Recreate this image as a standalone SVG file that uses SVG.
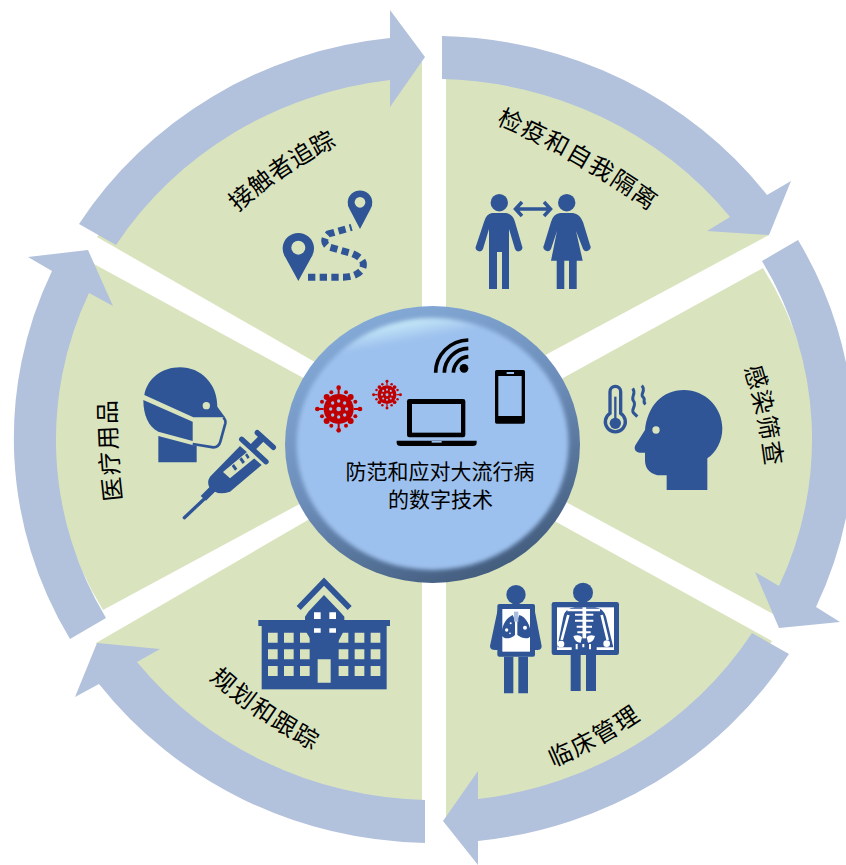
<svg xmlns="http://www.w3.org/2000/svg" width="846" height="865" viewBox="0 0 846 865">
<style>
.s{fill:#d9e4bf}
.a{fill:#b2c1dc}
.b{fill:#2f5597}
.g{fill:#d9e4bf}
.l{fill:none;stroke:#2f5597}
text{font-family:"Liberation Serif","Noto Sans CJK SC",serif;fill:#000}
.t{font-size:24px;letter-spacing:1.5px}
.c{font-size:21px;text-anchor:middle}
.r{fill:#c00000}
.k{fill:#000}
.f{fill:#9dc1ee}
</style>
<defs>
<linearGradient id="rim" x1="0.25" y1="0" x2="0.75" y2="1"><stop offset="0" stop-color="#86acd9"/><stop offset="0.5" stop-color="#6b8cb8"/><stop offset="1" stop-color="#3f5878"/></linearGradient>
<linearGradient id="hi" x1="0.4" y1="0" x2="0.6" y2="1"><stop offset="0" stop-color="#cdeffa"/><stop offset="0.09" stop-color="#9dc1ee"/><stop offset="1" stop-color="#9dc1ee"/></linearGradient>
<filter id="bl" x="-10%" y="-10%" width="120%" height="120%"><feGaussianBlur stdDeviation="2"/></filter>
<g id="virus">
<circle r="45" class="r"/>
<g class="r">
<path id="sp" d="M-3,-45H3V-60H-3Z"/><circle cy="-64" r="7"/>
<use href="#sp" transform="rotate(90)"/><circle cx="64" r="7"/>
<use href="#sp" transform="rotate(180)"/><circle cy="64" r="7"/>
<use href="#sp" transform="rotate(270)"/><circle cx="-64" r="7"/>
<circle cx="-36" cy="-36" r="9"/><circle cx="36" cy="-36" r="9"/><circle cx="-36" cy="36" r="9"/><circle cx="36" cy="36" r="9"/>
<circle cx="-22" cy="-50" r="6"/><circle cx="22" cy="-50" r="6"/><circle cx="-22" cy="50" r="6"/><circle cx="22" cy="50" r="6"/>
<circle cx="-50" cy="-22" r="6"/><circle cx="50" cy="-22" r="6"/><circle cx="-50" cy="22" r="6"/><circle cx="50" cy="22" r="6"/>
</g>
<g class="f">
<circle r="7"/><circle cy="-24" r="5"/><circle cy="24" r="5"/><circle cx="-24" r="5"/><circle cx="24" r="5"/>
<circle cx="-18" cy="-18" r="5"/><circle cx="18" cy="-18" r="5"/><circle cx="-18" cy="18" r="5"/><circle cx="18" cy="18" r="5"/>
</g>
</g>
<path id="p1" d="M496,124 Q578,158 662,220"/>
<path id="p2" d="M744,368 Q760,417 766,470"/>
<path id="p3" d="M553,767 Q598,749 644,717"/>
<path id="p4" d="M209,679 Q255,720 316,752"/>
<path id="p5" d="M122,500 Q116,452 116,400"/>
<path id="p6" d="M238,212 Q282,172 340,144"/>
</defs>

<g id="sector-quarantine">
<path class="s" d="M446,79A378,361 0 0 1 769,235L551,352L446,412Z"/>
</g>
<g id="sector-screening">
<path class="s" d="M763,268A372,356 0 0 1 775,615L540,488L563,378Z"/>
</g>
<g id="sector-clinical">
<path class="s" d="M772,641A378,361 0 0 1 446,819V480L540,513Z"/>
</g>
<g id="sector-planning">
<path class="s" d="M422,800A378,361 0 0 1 96,643L320,513L422,480Z"/>
</g>
<g id="sector-supplies">
<path class="s" d="M103,610A372,356 0 0 1 94,264L320,387V493Z"/>
</g>
<g id="sector-tracing">
<path class="s" d="M97,237A378,361 0 0 1 422,62V400L320,365Z"/>
</g>

<g id="connectors">
<path class="a" d="M442,36A420,404 0 0 1 767,195L791,181L769,235L707,231L730,217A378,361 0 0 0 442,79Z"/>
<path class="a" d="M798,240A414,399 0 0 1 816,607L840,622L779,628L755,572L779,586A372,356 0 0 0 762,261Z"/>
<path class="a" d="M789,654A420,404 0 0 1 478,841V865L443,821L478,771V799A378,361 0 0 0 752,633Z"/>
<path class="a" d="M425,843A420,404 0 0 1 99,684L75,697L97,643L160,649L137,662A378,361 0 0 0 425,800Z"/>
<path class="a" d="M70,639A414,399 0 0 1 52,271L28,257L88,250L113,306L89,293A372,356 0 0 0 106,618Z"/>
<path class="a" d="M79,224A420,404 0 0 1 390,38V10L425,57L390,107V80A378,361 0 0 0 116,245Z"/>
</g>

<g id="node-quarantine">
<text class="t"><textPath href="#p1">检疫和自我隔离</textPath></text>
<circle class="b" cx="499.3" cy="202.7" r="8.7"/>
<path class="b" d="M492,213H506Q513,214 515,222L522,246A3.8,3.8 0 0 1 515,249L509,229V289H502V252H497V289H489V229L483,249A3.8,3.8 0 0 1 476,246L484,222Q486,214 492,213Z"/>
<circle class="b" cx="566.7" cy="202.7" r="8.7"/>
<path class="b" d="M560,213H573Q580,214 583,222L590,245A3.8,3.8 0 0 1 583,249L576,231L582.7,260.7H576.7V289H569V260.7H564.3V289H556.7V260.7H551L557,231L551,249A3.8,3.8 0 0 1 544,245L551,222Q553,214 560,213Z"/>
<path fill="none" stroke="#2f5597" stroke-width="3.5" d="M517,209H549M522,202L515.5,209L522,216M544,202L550.5,209L544,216"/>
</g>

<g id="node-screening">
<text class="t"><textPath href="#p2">感染筛查</textPath></text>
<g transform="translate(590 370) scale(.33333)">
<path class="b" d="M230,360V316H212C185,316 165,298 165,272V248H150C138,248 130,238 136,226L165,180C172,110 215,60 282,60C345,60 397,112 397,175C397,215 378,248 352,265V360Z"/>
<circle class="g" cx="198" cy="180" r="11"/>
<path class="l" stroke-width="10" d="M60,130V65A16,16 0 0 1 92,65V130A30,30 0 1 1 60,130Z"/>
<path class="l" stroke-width="7" d="M76,80V150"/>
<circle class="b" cx="76" cy="160" r="17"/>
<path class="l" stroke-width="9" d="M128,55C140,70 122,80 130,92C142,105 122,118 130,128L142,140M155,47C170,60 150,72 158,80C170,90 155,95 167,103"/>
</g>
</g>

<g id="node-clinical">
<text class="t"><textPath href="#p3">临床管理</textPath></text>
<g transform="translate(460 560) scale(.33333)">
<circle class="b" cx="168" cy="104" r="29"/>
<path class="b" d="M115,140H222L245,258Q245,270 232,270H105Q90,270 90,258Z"/>
<rect class="b" x="112" y="132" width="113" height="158" rx="6"/>
<rect fill="#fff" x="127" y="147" width="83" height="128"/>
<path class="b" d="M132,290H160V400H132ZM175,290H204V400H175Z"/>
<path class="b" d="M158,165C135,175 122,205 126,228C135,240 155,235 165,225V180ZM178,165C200,170 215,205 212,228C205,240 185,235 172,225V180Z"/>
<path fill="#a9bedc" d="M162,155H175V185H162Z"/>
<g fill="#fff"><circle cx="140" cy="210" r="5"/><circle cx="152" cy="190" r="3"/><circle cx="195" cy="203" r="6"/><circle cx="150" cy="220" r="2.5"/></g>
<circle class="b" cx="369" cy="98" r="30"/>
<rect class="b" x="275" y="126" width="202" height="159" rx="7"/>
<rect fill="#fff" x="291" y="142" width="171" height="128"/>
<path class="b" d="M292,262L310,170Q315,145 345,142H405Q430,145 438,170L460,262H410V285H335V262Z"/>
<g fill="none" stroke="#fff">
<path stroke-width="7" d="M322,150H420"/>
<path stroke-width="11" d="M373,142V235"/>
<path stroke-width="6" d="M345,164H400M345,182H400M350,200H396M352,217H392"/>
<path stroke-width="8" d="M325,165L305,240M425,165L443,240"/>
<path stroke-width="6" d="M350,252V268M370,252V262M390,252V268"/>
</g>
<g fill="#fff"><circle cx="303" cy="252" r="10"/><circle cx="440" cy="251" r="10"/>
<path d="M340,228Q358,222 366,232L362,248Q345,248 340,228ZM405,228Q388,222 380,232L384,248Q400,248 405,228Z"/></g>
<path class="b" d="M332,285H362V393H332ZM378,285H408V393H378Z"/>
</g>
</g>

<g id="node-planning">
<text class="t"><textPath href="#p4">规划和跟踪</textPath></text>
<g transform="translate(240 570) scale(.33333)">
<path class="l" stroke-width="17" d="M176,114L252,35L329,114"/>
<rect class="b" x="55" y="150" width="395" height="18"/>
<rect class="b" x="65" y="165" width="375" height="193"/>
<path class="g" d="M84,188h29v30h-29zM132,188h29v30h-29zM180,188h29v30h-29zM296,188h29v30h-29zM344,188h29v30h-29zM392,188h29v30h-29zM84,238h29v30h-29zM132,238h29v30h-29zM180,238h29v30h-29zM296,238h29v30h-29zM344,238h29v30h-29zM392,238h29v30h-29zM84,288h29v30h-29zM132,288h29v30h-29zM180,288h29v30h-29zM296,288h29v30h-29zM344,288h29v30h-29zM392,288h29v30h-29zM233,268h39v70h-39z"/>
<path class="b" d="M252,75L300,125L313,140V180L295,214H215L195,180V140L205,125Z"/>
<path fill="#fff" d="M222,127h20v20h-20zM268,127h20v20h-20zM222,175h20v13h-20zM268,175h20v13h-20z"/>
</g>
</g>

<g id="node-supplies">
<text class="t"><textPath href="#p5">医疗用品</textPath></text>
<g transform="translate(130 360) scale(.33333)">
<path class="b" d="M43,105C52,55 97,22 150,22C212,22 262,70 262,140L285,172H190Z"/>
<path class="b" d="M40,120L188,185V243L85,215C55,200 40,165 40,120Z"/>
<path class="b" d="M85,228L190,256H200V307H85Z"/>
<path class="l" stroke-width="8" d="M188,252L250,262C262,262 268,256 271,245L286,190Q288,180 280,172"/>
<circle class="g" cx="229" cy="137" r="11"/>
<path class="l" stroke-width="10" stroke-linecap="round" d="M163,473L225,415"/>
<path class="b" d="M240,350L330,258L395,315L300,395Q270,405 255,395L228,422L212,408L238,382Q230,365 240,350Z"/>
<path class="l" stroke-width="16" stroke-linecap="round" d="M335,238L408,305M382,218L430,262"/>
<path class="l" stroke-width="22" d="M365,265L400,230"/>
<path class="g" d="M279,336L358,270L375,293L300,355Z"/>
<path class="b" d="M305,318l7,-6l10,14l-7,6zM328,298l7,-6l10,14l-7,6zM345,285l6,-5l8,12l-6,5z"/>
</g>
</g>

<g id="node-tracing">
<text class="t" style="letter-spacing:0"><textPath href="#p6">接触者追踪</textPath></text>
<g transform="translate(220 120) scale(.33333)">
<path class="b" d="M235,483L196,412A47,47 0 1 1 274,412Z"/>
<circle class="g" cx="235" cy="383" r="21"/>
<path class="b" d="M420,327L390,270A37,37 0 1 1 450,270Z"/>
<circle class="g" cx="420" cy="247" r="16"/>
<path class="l" stroke-width="21" stroke-dasharray="22 13" d="M264,472H370Q410,470 425,450C440,425 420,410 395,400L330,382C310,375 310,355 325,342L395,322"/>
</g>
</g>

<g id="node-center">
<ellipse cx="432.5" cy="444.5" rx="147.5" ry="138.5" fill="url(#rim)"/>
<ellipse cx="432.5" cy="444" rx="136" ry="126" fill="url(#hi)" filter="url(#bl)"/>
<g transform="translate(280 300) scale(.33333)">
<circle class="k" cx="552" cy="205" r="13"/>
<path fill="none" stroke="#000" stroke-width="11" d="M520,218A48,50 0 0 1 565,170M493,218A74,74 0 0 1 565,145M467,218A100,98 0 0 1 565,120"/>
<rect class="k" x="645" y="210" width="90" height="161" rx="5"/>
<rect class="f" x="655" y="228" width="70" height="120"/>
<rect class="f" x="680" y="216" width="22" height="6"/>
<rect class="k" x="381" y="297" width="175" height="115" rx="7"/>
<rect class="f" x="396" y="312" width="147" height="86"/>
<path class="k" d="M350,422H590V428Q590,438 578,438H362Q350,438 350,428Z"/>
<rect class="f" x="455" y="423" width="30" height="5"/>
<use href="#virus" transform="translate(176 327)"/>
<use href="#virus" transform="translate(321 284) scale(.63)"/>
</g>
<text class="c" x="440" y="479">防范和应对大流行病</text>
<text class="c" x="440.5" y="507">的数字技术</text>
</g>
</svg>
